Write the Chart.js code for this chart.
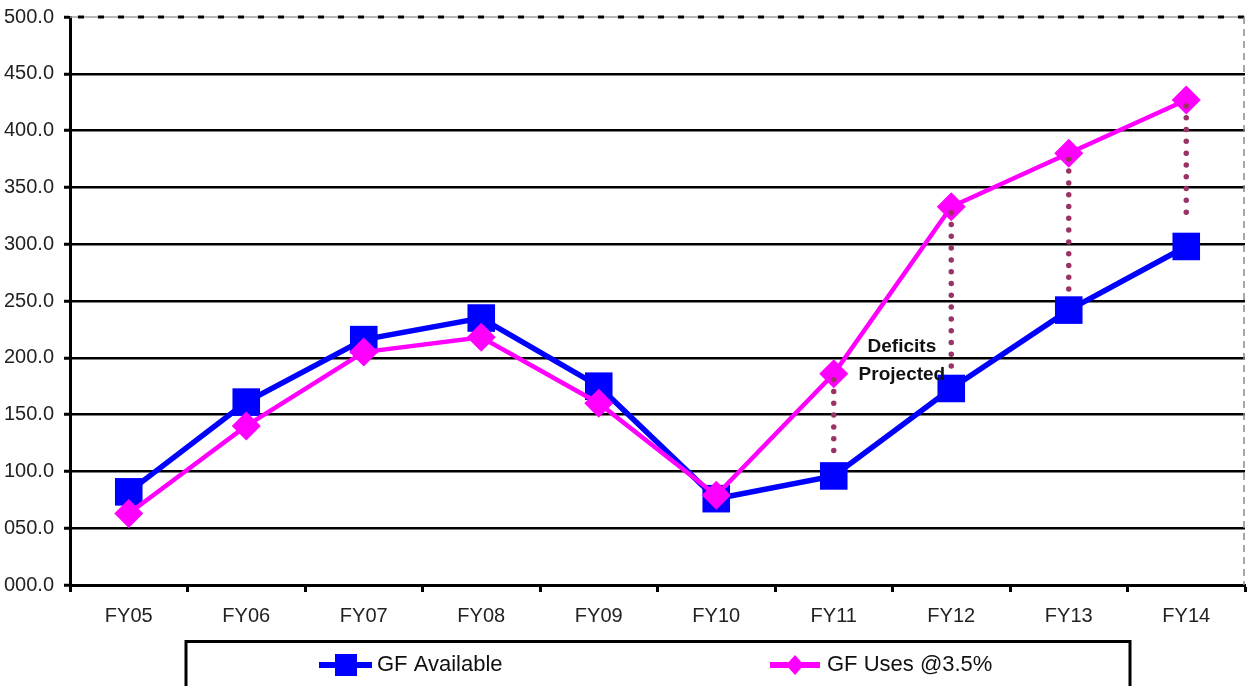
<!DOCTYPE html>
<html>
<head>
<meta charset="utf-8">
<script src="https://cdn.jsdelivr.net/npm/chart.js@4.4.1/dist/chart.umd.min.js"></script>
<style>
  html, body { margin: 0; padding: 0; background: #fff; overflow: hidden; }
  #wrap { position: relative; width: 1248px; height: 686px; }
  canvas { display: block; }
</style>
</head>
<body>
<div id="wrap"><canvas id="c" width="1248" height="686"></canvas></div>
<script>
const categories = ['FY05','FY06','FY07','FY08','FY09','FY10','FY11','FY12','FY13','FY14'];
const gfAvailable = [82, 161, 216, 235, 175, 76, 96, 173, 242, 298];
const gfUses = [63, 140, 205, 218, 160, 79, 186, 333, 380, 427];
const yTickValues = [0, 50, 100, 150, 200, 250, 300, 350, 400, 450, 500];
const deficitCats = ['FY11', 'FY12', 'FY13', 'FY14'];
const deficitFrom = [186, 333, 380, 427];
const deficitTo = [118, 188, 256, 328];
const annotationLines = ['Deficits', 'Projected'];
const seriesNames = ['GF Available', 'GF Uses @3.5%'];

const FONT = '"Liberation Sans", Arial, Helvetica, sans-serif';
const BLUE = '#0000FF';
const PINK = '#FF00FF';
const DOT = '#993366';

function fmt(v) { return String(v).padStart(3, '0') + '.0'; }

const decor = {
  id: 'decor',
  beforeDatasetsDraw(chart) {
    const { ctx, chartArea: a } = chart;
    ctx.save();
    ctx.strokeStyle = '#a0a0a0';
    ctx.lineWidth = 1.5;
    ctx.beginPath(); ctx.moveTo(a.left, a.top); ctx.lineTo(a.right, a.top); ctx.stroke();
    ctx.strokeStyle = '#000';
    ctx.lineWidth = 3;
    ctx.setLineDash([6, 14]);
    ctx.beginPath(); ctx.moveTo(a.left + 8, a.top); ctx.lineTo(a.right, a.top); ctx.stroke();
    ctx.strokeStyle = '#8a8a8a';
    ctx.lineWidth = 1.5;
    ctx.setLineDash([7, 5]);
    ctx.beginPath(); ctx.moveTo(a.right - 1, a.top); ctx.lineTo(a.right - 1, a.bottom); ctx.stroke();
    ctx.restore();
  },
  afterDatasetsDraw(chart) {
    const { ctx } = chart;
    const xs = chart.scales.x, ys = chart.scales.y;
    ctx.save();
    ctx.strokeStyle = DOT;
    ctx.lineWidth = 5.5;
    ctx.lineCap = 'round';
    ctx.setLineDash([0, 11.8]);
    deficitCats.forEach((c, i) => {
      const x = xs.getPixelForValue(categories.indexOf(c));
      ctx.beginPath();
      ctx.moveTo(x, ys.getPixelForValue(deficitFrom[i]) + 6);
      ctx.lineTo(x, ys.getPixelForValue(deficitTo[i]));
      ctx.stroke();
    });
    ctx.setLineDash([]);
    const p1 = xs.getPixelForValue(categories.indexOf('FY11'));
    const p2 = xs.getPixelForValue(categories.indexOf('FY12'));
    const tx = p1 + 0.58 * (p2 - p1);
    ctx.fillStyle = '#111';
    ctx.font = 'bold 19px ' + FONT;
    ctx.textAlign = 'center';
    ctx.textBaseline = 'middle';
    ctx.fillText(annotationLines[0], tx, ys.getPixelForValue(210));
    ctx.fillText(annotationLines[1], tx, ys.getPixelForValue(185));
    ctx.restore();
  },
  afterDraw(chart) {
    const { ctx } = chart;
    ctx.save();
    ctx.strokeStyle = '#000';
    ctx.lineWidth = 3;
    ctx.strokeRect(186, 641.5, 944, 80);
    const cy = 665;
    ctx.font = '22px ' + FONT;
    ctx.textBaseline = 'middle';
    ctx.textAlign = 'left';
    ctx.strokeStyle = BLUE; ctx.lineWidth = 6;
    ctx.beginPath(); ctx.moveTo(319, cy); ctx.lineTo(372, cy); ctx.stroke();
    ctx.fillStyle = BLUE;
    ctx.fillRect(335, cy - 11, 22, 22);
    ctx.fillStyle = '#111';
    ctx.fillText(seriesNames[0], 377, cy);
    ctx.strokeStyle = PINK; ctx.lineWidth = 6;
    ctx.beginPath(); ctx.moveTo(770, cy); ctx.lineTo(820, cy); ctx.stroke();
    ctx.fillStyle = PINK;
    ctx.beginPath();
    ctx.moveTo(795, cy - 10); ctx.lineTo(804, cy); ctx.lineTo(795, cy + 10); ctx.lineTo(786, cy);
    ctx.closePath(); ctx.fill();
    ctx.fillStyle = '#111';
    ctx.fillText(seriesNames[1], 827, cy);
    ctx.restore();
  }
};

new Chart(document.getElementById('c'), {
  type: 'line',
  data: {
    labels: categories,
    datasets: [
      {
        label: seriesNames[0],
        data: gfAvailable,
        borderColor: BLUE,
        backgroundColor: BLUE,
        borderWidth: 5.5,
        pointStyle: 'rect',
        pointRadius: 19.5,
        pointBorderWidth: 0,
        pointBackgroundColor: BLUE,
        tension: 0,
        clip: false,
        order: 2
      },
      {
        label: seriesNames[1],
        data: gfUses,
        borderColor: PINK,
        backgroundColor: PINK,
        borderWidth: 4.5,
        pointStyle: 'rectRot',
        pointRadius: 14.5,
        pointBorderWidth: 0,
        pointBackgroundColor: PINK,
        tension: 0,
        clip: false,
        order: 1
      }
    ]
  },
  options: {
    responsive: false,
    animation: false,
    devicePixelRatio: 1,
    layout: { autoPadding: false, padding: { top: 17, right: 3, left: 0, bottom: 0 } },
    plugins: { legend: { display: false }, tooltip: { enabled: false } },
    scales: {
      x: {
        type: 'category',
        offset: true,
        afterFit(s) { s.height = 101; s.paddingLeft = 0; s.paddingRight = 0; },
        grid: {
          offset: true,
          drawOnChartArea: false,
          drawTicks: true,
          tickLength: 7,
          tickWidth: 3,
          tickColor: '#000'
        },
        border: { display: true, color: '#000', width: 3 },
        ticks: {
          padding: 12,
          color: '#222',
          font: { family: FONT, size: 20 },
          maxRotation: 0
        }
      },
      y: {
        min: 0,
        max: 500,
        afterFit(s) { s.width = 70; s.paddingTop = 0; s.paddingBottom = 0; },
        afterBuildTicks(s) { s.ticks = yTickValues.map(v => ({ value: v })); },
        grid: {
          color: (ctx) => (ctx.tick && ctx.tick.value === 500) ? 'rgba(0,0,0,0)' : '#000',
          lineWidth: 2.5,
          tickLength: 6,
          tickWidth: 3,
          tickColor: '#000'
        },
        border: { display: true, color: '#000', width: 3 },
        ticks: {
          padding: 10,
          color: '#222',
          font: { family: FONT, size: 20 },
          callback: (v) => fmt(v)
        }
      }
    }
  },
  plugins: [decor]
});
</script>
</body>
</html>
